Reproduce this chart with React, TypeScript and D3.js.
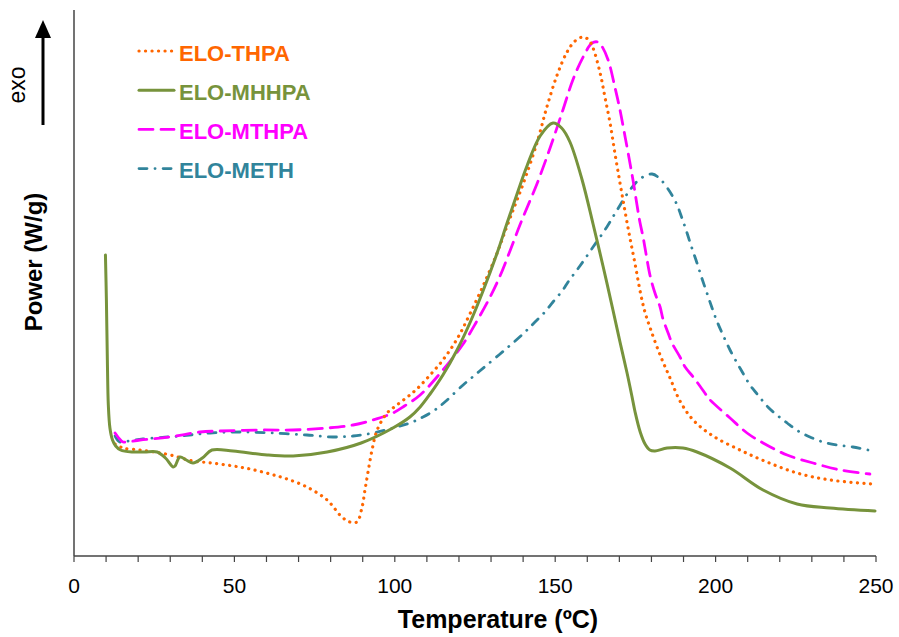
import React from "react";
import * as d3 from "d3";

// Temperature (ºC), relative heat flow (arbitrary units, exo up)
const thpa: [number, number][] = [
  [12.8, 1.12], [15.3, 1.08], [20.6, 1.06], [25, 1.04], [30, 1.01], [37.1, 0.95], [43.0, 0.93],
  [49.6, 0.9], [54.9, 0.87], [61.1, 0.82], [66.4, 0.77], [72.6, 0.69], [78.9, 0.56], [83.5, 0.39],
  [86.0, 0.34], [88.2, 0.34], [89.8, 0.49], [90.7, 0.66], [91.6, 0.83], [92.9, 1.06], [94.5, 1.26],
  [97.6, 1.43], [100.7, 1.51], [104.7, 1.61], [107.2, 1.68], [111.0, 1.81], [115.0, 1.96],
  [119.4, 2.17], [123.4, 2.42], [127.5, 2.7], [131.9, 3.03], [135.0, 3.3], [137.5, 3.51],
  [140.0, 3.72], [144.3, 4.13], [147.4, 4.49], [150.6, 4.81], [153.7, 5.04], [156.2, 5.15],
  [158.7, 5.19], [160.5, 5.16], [161.8, 5.08], [164.0, 4.83], [165.5, 4.59], [167.1, 4.33],
  [168.6, 4.03], [170.2, 3.73], [171.8, 3.44], [173.3, 3.18], [174.9, 2.92], [176.4, 2.66],
  [177.8, 2.46], [179.6, 2.28], [182.7, 2.01], [185.8, 1.78], [188.9, 1.55], [193.0, 1.36],
  [199.2, 1.2], [207.6, 1.06], [216.0, 0.94], [225.4, 0.83], [235.7, 0.76], [248.8, 0.72],
];

const mhhpa: [number, number][] = [
  [9.8, 3.01], [10.1, 2.56], [10.4, 1.96], [10.7, 1.51], [11.2, 1.28], [12.0, 1.16], [13.0, 1.1],
  [14.5, 1.06], [18.4, 1.04], [22, 1.04], [25.9, 1.04], [28.5, 0.98], [30.9, 0.89], [31.5, 0.9],
  [33.0, 0.99], [35, 0.96], [37.1, 0.93], [40, 0.98], [43.0, 1.06], [49.6, 1.05], [60.2, 1.01],
  [68.3, 1.0], [78.9, 1.04], [89.5, 1.13], [99.4, 1.28], [104.7, 1.39], [107.9, 1.49], [111.0, 1.62],
  [115.0, 1.81], [119.4, 2.06], [123.4, 2.33], [127.5, 2.65], [131.9, 3.03], [135.0, 3.33],
  [138.1, 3.62], [141.2, 3.9], [145.3, 4.2], [149.3, 4.33], [152, 4.28], [154.6, 4.14],
  [158.4, 3.76], [161.8, 3.32], [164.9, 2.9], [168.0, 2.46], [170.2, 2.14], [172.4, 1.83],
  [173.9, 1.6], [174.9, 1.44], [176.5, 1.24], [178.0, 1.12], [179.5, 1.06], [181.1, 1.05],
  [184.9, 1.08], [189.8, 1.08], [194.2, 1.04], [204.5, 0.88], [214.8, 0.66], [225.4, 0.52],
  [235.7, 0.48], [249.7, 0.45],
];

const mthpa: [number, number][] = [
  [12.8, 1.23], [14.5, 1.16], [15.3, 1.14], [20.6, 1.16], [29.9, 1.19], [39.3, 1.24], [45.5, 1.25],
  [58.0, 1.26], [68.3, 1.26], [78.9, 1.28], [87.0, 1.31], [93.2, 1.36], [99.4, 1.43], [103, 1.5],
  [107.9, 1.61], [115.0, 1.86], [121.3, 2.12], [125.6, 2.35], [129.7, 2.59], [132.8, 2.8],
  [135.9, 3.05], [139.0, 3.31], [142.1, 3.55], [144.3, 3.72], [148.4, 4.08], [152.4, 4.46],
  [155.5, 4.76], [158.7, 4.99], [161.5, 5.13], [163.3, 5.14], [164.5, 5.1], [166.5, 4.96],
  [168.6, 4.69], [170.2, 4.46], [171.8, 4.19], [173.3, 3.93], [174.3, 3.75], [175.5, 3.51],
  [176.4, 3.34], [177.4, 3.19], [178.0, 3.08], [179.6, 2.8], [181.1, 2.63], [182.7, 2.49],
  [183.6, 2.37], [185.2, 2.23], [186.4, 2.13], [188.9, 1.99], [190.5, 1.89], [193.0, 1.79],
  [195.1, 1.7], [197.3, 1.6], [198.3, 1.56], [204.5, 1.38], [209.8, 1.23], [214.8, 1.13],
  [222.3, 1.01], [230.4, 0.93], [238.8, 0.86], [248.1, 0.82],
];

const meth: [number, number][] = [
  [12.8, 1.2], [14.3, 1.14], [17, 1.15], [21.5, 1.17], [33.0, 1.2], [42.4, 1.23], [51.7, 1.24],
  [62.0, 1.23], [72.6, 1.21], [80.7, 1.19], [87.0, 1.2], [93.2, 1.23], [99.4, 1.28], [104.7, 1.33],
  [108.8, 1.39], [112.5, 1.46], [115.6, 1.54], [121.3, 1.71], [125.0, 1.81], [128.7, 1.91],
  [135.0, 2.08], [140.6, 2.24], [143.7, 2.34], [146.8, 2.44], [149.3, 2.54], [152.4, 2.66],
  [154.0, 2.74], [157.7, 2.9], [161.8, 3.09], [166.1, 3.29], [169.3, 3.46], [173.3, 3.66],
  [176.4, 3.77], [180.2, 3.82], [182.7, 3.77], [185.8, 3.64], [188.0, 3.51], [189.5, 3.38],
  [191.1, 3.23], [192.6, 3.08], [194.2, 2.93], [195.8, 2.77], [197.3, 2.63], [198.9, 2.48],
  [200.4, 2.35], [202.3, 2.21], [204.5, 2.06], [206.7, 1.93], [208.5, 1.83], [210.7, 1.71],
  [213.2, 1.61], [216.3, 1.49], [219.1, 1.41], [222.3, 1.33], [225.7, 1.25], [229.4, 1.19],
  [233.5, 1.14], [237.8, 1.11], [242.8, 1.09], [247.5, 1.06],
];

const seriesNames = ["ELO-THPA", "ELO-MHHPA", "ELO-MTHPA", "ELO-METH"];
const seriesColors = ["#FF6600", "#77933C", "#FF00FF", "#31849B"];
const seriesDash = ["0.1 6.4", "", "14 8", "8 8 0.1 8"];
const seriesWidth = [3.2, 3, 2.8, 2.8];
const seriesData = [thpa, mhhpa, mthpa, meth];

const xTickValues = d3.range(0, 251, 10);
const xTickLabels = [0, 50, 100, 150, 200, 250];

const FONT = "'Liberation Sans', Arial, Helvetica, sans-serif";

export default function App() {
  const W = 899, H = 637;
  const left = 74, right = 876, top = 10, bottom = 556;
  const x = d3.scaleLinear().domain([0, 250]).range([left, right]);
  const y = d3.scaleLinear().domain([0, 5.46]).range([bottom, top]);
  const line = d3
    .line<[number, number]>()
    .x((d) => x(d[0]))
    .y((d) => y(d[1]))
    .curve(d3.curveCatmullRom.alpha(0.5));

  const order = [3, 2, 0, 1];

  return (
    <svg
      width={W}
      height={H}
      style={{ position: "absolute", left: 0, top: 0, background: "#fff" }}
      fontFamily={FONT}
    >
      <rect x={0} y={0} width={W} height={H} fill="#fff" />
      {/* curves */}
      {order.map((i) => (
        <path
          key={seriesNames[i]}
          d={line(seriesData[i]) || ""}
          fill="none"
          stroke={seriesColors[i]}
          strokeWidth={seriesWidth[i]}
          strokeDasharray={seriesDash[i] || undefined}
          strokeLinecap="round"
          strokeLinejoin="round"
        />
      ))}
      {/* axes */}
      <line x1={left} y1={top} x2={left} y2={bottom} stroke="#444" strokeWidth={1.5} />
      <line x1={left} y1={bottom} x2={right} y2={bottom} stroke="#444" strokeWidth={1.5} />
      {xTickValues.map((t) => (
        <line key={t} x1={x(t)} x2={x(t)} y1={bottom} y2={bottom + 6} stroke="#444" strokeWidth={1.2} />
      ))}
      {xTickLabels.map((t) => (
        <text key={t} x={x(t)} y={593} fontSize={21} textAnchor="middle" fill="#000">
          {t}
        </text>
      ))}
      <text x={498} y={628} fontSize={25} fontWeight="bold" textAnchor="middle" fill="#000">
        Temperature (ºC)
      </text>
      <text
        transform="translate(42,262) rotate(-90)"
        fontSize={24}
        fontWeight="bold"
        textAnchor="middle"
        fill="#000"
      >
        Power (W/g)
      </text>
      {/* exo arrow */}
      <line x1={43} y1={125} x2={43} y2={34} stroke="#000" strokeWidth={3} />
      <path d="M43,20 L51,38 L35,38 Z" fill="#000" />
      <text transform="translate(25,85) rotate(-90)" fontSize={23} textAnchor="middle" fill="#000">
        exo
      </text>
      {/* legend */}
      {seriesNames.map((n, i) => {
        const ly = 51 + i * 39.2;
        return (
          <g key={n}>
            <line
              x1={139}
              x2={174}
              y1={ly}
              y2={ly}
              stroke={seriesColors[i]}
              strokeWidth={seriesWidth[i]}
              strokeDasharray={seriesDash[i] || undefined}
              strokeLinecap="round"
            />
            <text x={179} y={ly + 9.5} fontSize={22} fontWeight="bold" fill={seriesColors[i]}>
              {n}
            </text>
          </g>
        );
      })}
    </svg>
  );
}
